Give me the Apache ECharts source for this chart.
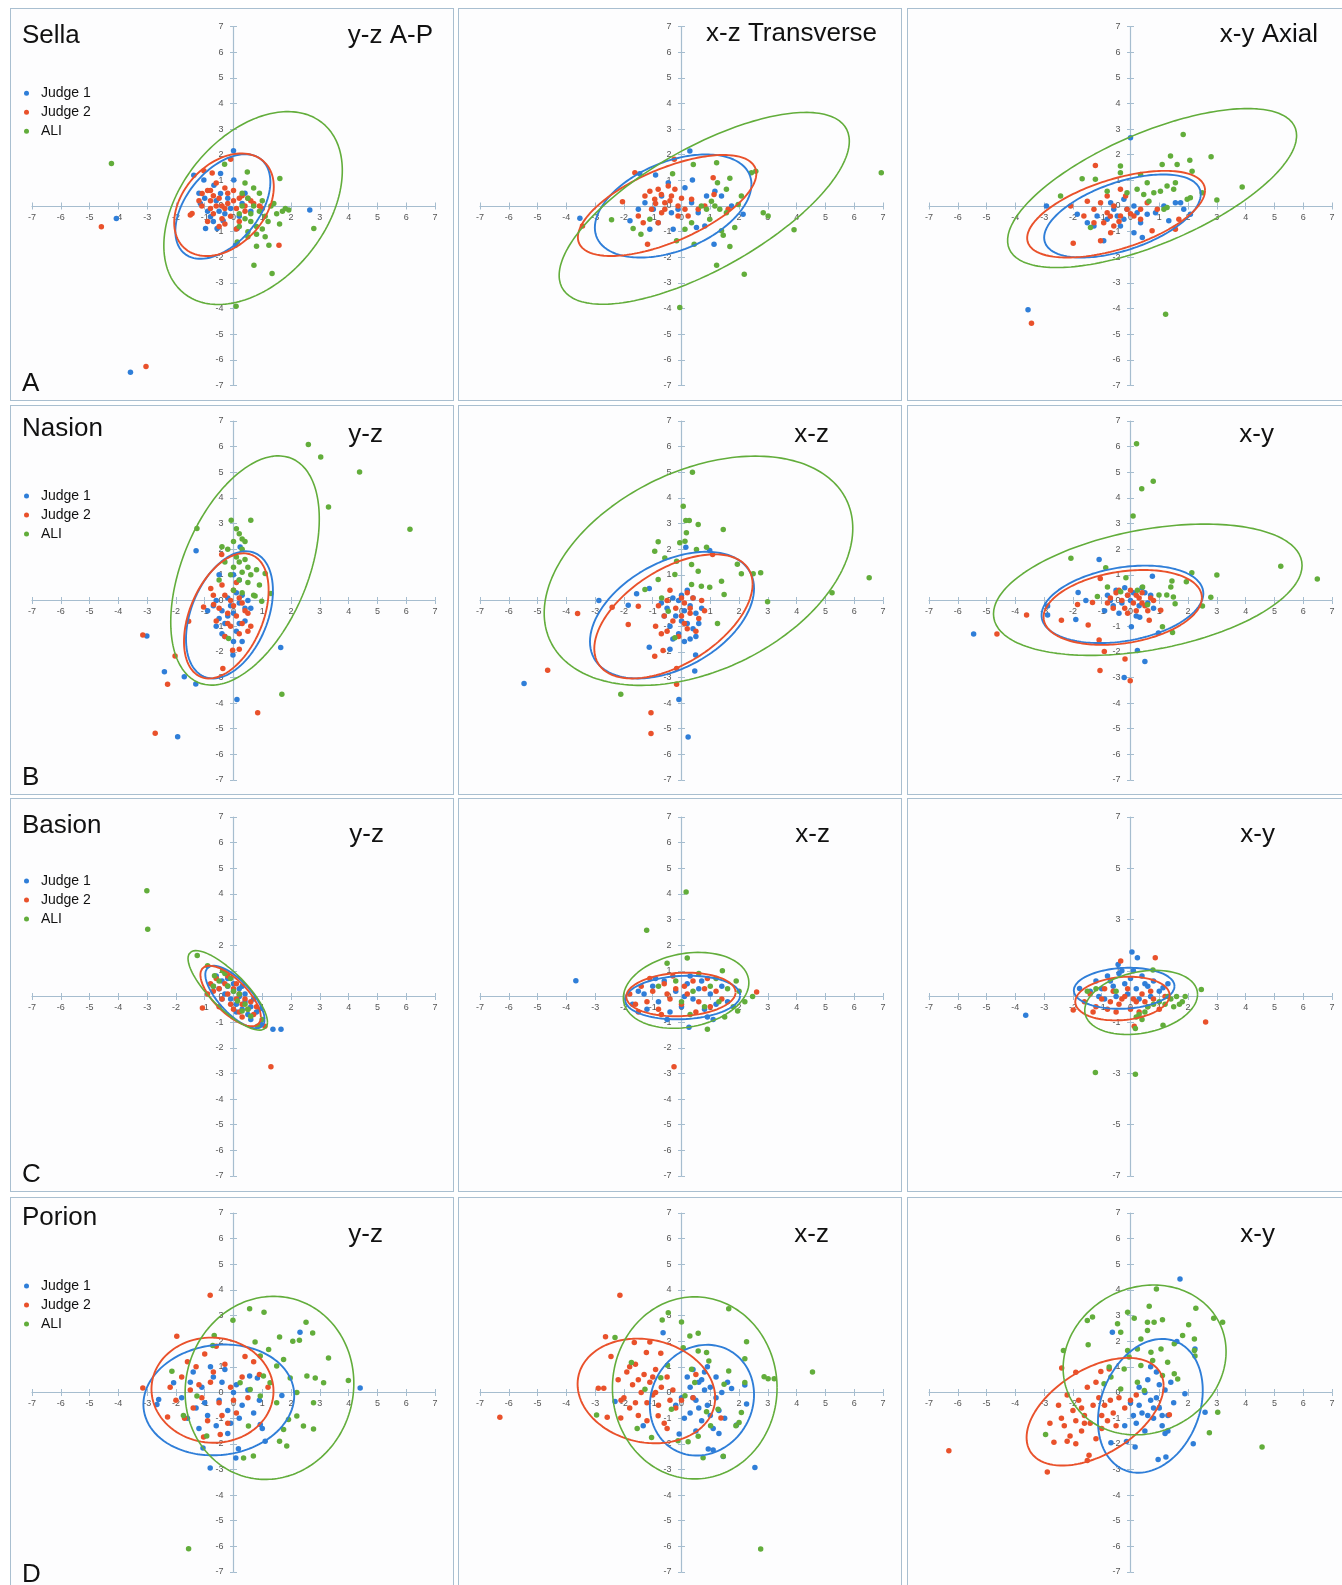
<!DOCTYPE html>
<html><head><meta charset="utf-8">
<script src="https://cdn.jsdelivr.net/npm/echarts@6/dist/echarts.min.js"></script>
<style>
html,body{margin:0;padding:0;background:#fff;}
body{width:1342px;height:1585px;position:relative;overflow:hidden;}
.panel{position:absolute;background:#fdfdfe;}
.panel .chart{position:absolute;left:0;top:0;width:100%;height:100%;}
.panel .frame{position:absolute;left:0;top:0;right:0;bottom:0;border:1px solid #a9bfd0;pointer-events:none;}
</style></head><body>
<script>
// ---------- names / texts ----------
const seriesNames = ['Judge 1', 'Judge 2', 'ALI'];
const landmarks = ['Sella', 'Nasion', 'Basion', 'Porion'];
const rowLetters = ['A', 'B', 'C', 'D'];
const planeTitles = [
  ['y-z A-P', 'x-z Transverse', 'x-y Axial'],
  ['y-z', 'x-z', 'x-y'],
  ['y-z', 'x-z', 'x-y'],
  ['y-z', 'x-z', 'x-y']
];
const axisMin = -7, axisMax = 7;
const oddTicks = [-7, -5, -3, -1, 1, 3, 5, 7];

// ---------- Sella ----------
const sellaYZ_j1 = [[-4.07,-0.49],[-3.58,-6.48],[2.65,-0.16],[0.0,2.15],[-1.38,1.2],[-1.03,1.01],[-0.45,1.27],[0.01,1.01],[-0.68,0.81],[-1.15,0.1],[-0.97,-0.88],[-0.57,-0.88],[-0.36,-0.58],[0.13,-0.88],[0.07,-1.53],[-0.8,-0.42],[-0.45,0.49],[-0.6,0.2],[-0.2,0.3],[0.3,0.1],[-0.9,-0.2],[-0.3,-0.3],[0.2,-0.4],[-1.2,0.5],[-0.7,-0.6],[0.4,0.5],[-0.1,-0.1],[-0.5,-0.2],[0.6,-0.2],[-1.0,0.3]];
const sellaYZ_j2 = [[-4.59,-0.81],[-3.04,-6.26],[1.58,-1.53],[-0.1,1.82],[-0.74,1.29],[-1.03,1.37],[-1.44,-0.29],[-1.09,0.49],[-1.5,-0.35],[-0.9,0.6],[-0.6,0.9],[-0.3,0.7],[0.0,0.6],[0.3,0.4],[0.6,0.2],[-0.8,0.2],[-0.5,0.3],[-0.2,0.1],[0.1,-0.1],[0.4,-0.2],[-0.7,-0.3],[-0.4,-0.5],[-0.1,-0.4],[0.2,-0.6],[-0.9,-0.6],[-0.6,0.0],[-0.3,-0.1],[0.0,0.2],[0.7,0.1],[-1.1,0.0],[-0.2,0.5],[0.5,0.3],[-0.5,-0.8],[0.1,-0.9],[-0.8,0.6],[0.9,0.0],[1.0,-0.1],[-0.4,0.0],[-0.7,0.4],[0.2,0.3],[-0.3,-0.7],[0.4,0.0],[-1.2,0.2],[-0.8,-0.1]];
const sellaYZ_ali = [[-4.24,1.66],[0.09,-3.91],[1.34,-2.63],[0.71,-2.31],[2.79,-0.88],[1.61,1.07],[0.48,1.33],[-0.31,1.63],[1.92,-0.16],[1.23,-1.53],[0.8,-1.57],[0.13,-1.4],[0.3,0.5],[0.5,0.3],[0.7,0.0],[0.9,-0.2],[1.1,-0.4],[1.3,0.0],[1.5,-0.3],[1.7,-0.2],[0.4,-0.5],[0.6,-0.6],[0.8,-0.8],[1.0,-0.9],[0.2,-0.8],[0.5,-1.0],[1.2,-0.6],[0.9,0.5],[0.7,0.7],[1.4,0.1],[0.3,0.0],[1.0,0.2],[0.6,-0.3],[1.8,-0.1],[0.2,-0.3],[1.6,-0.7],[0.4,0.9],[0.8,-1.1],[1.1,-1.2],[0.5,-1.2]];
const sellaYZ_ell = [[-0.37,-0.02,1.65,2.04,0.47],[-0.33,0.05,1.73,2.0,0.35],[0.68,-0.08,3.1,3.76,0.39]];

const sellaXZ_j1 = [[0.29,2.14],[-1.45,1.26],[-0.9,1.21],[0.38,1.01],[-3.53,-0.48],[-1.79,-0.58],[1.13,-1.49],[-0.81,-0.65],[-1.1,-0.91],[-0.29,-0.91],[0.52,-0.84],[0.81,-0.78],[1.39,0.39],[2.14,-0.32],[1.74,0.0],[0.12,0.71],[-0.69,0.39],[-0.46,0.91],[0.35,0.13],[-0.12,-0.13],[-1.27,0.13],[-0.98,-0.13],[0.87,0.39],[0.58,-0.26],[-0.35,-0.26],[1.16,0.58],[-1.5,-0.13]];
const sellaXZ_j2 = [[-1.18,-1.49],[-3.44,-0.78],[-0.25,1.82],[-1.62,1.3],[1.1,1.1],[-2.05,0.17],[1.13,0.45],[1.62,-0.13],[-1.5,-0.39],[-1.27,0.39],[-0.93,0.26],[-0.81,0.65],[-0.58,0.13],[-0.35,0.39],[-0.12,0.0],[0.12,-0.13],[0.35,0.26],[0.58,-0.13],[-1.04,-0.13],[-0.69,-0.26],[-0.46,0.78],[-0.23,0.65],[0.23,-0.39],[-0.81,-0.65],[0.81,0.0],[-1.33,-0.65],[-0.58,-0.13],[-1.1,0.58],[-0.12,-0.39],[-0.9,0.1],[-0.4,0.2],[0.0,0.3],[-0.7,0.45]];
const sellaXZ_ali = [[6.94,1.3],[2.58,1.36],[2.43,1.3],[1.22,1.69],[0.41,1.62],[1.68,1.08],[1.25,0.91],[-0.31,1.26],[2.84,-0.26],[3.01,-0.39],[3.91,-0.93],[2.18,-2.66],[1.22,-2.31],[-0.06,-3.96],[-2.43,-0.54],[-1.68,-0.88],[-1.41,-1.1],[-0.17,-1.36],[0.44,-1.49],[1.68,-1.58],[1.45,-1.14],[1.85,-0.84],[1.39,-0.97],[0.98,-0.52],[1.33,-0.13],[1.04,0.19],[2.08,0.39],[1.56,0.65],[0.69,0.0],[0.35,-0.65],[0.12,-0.91],[0.87,-0.13],[1.97,0.06],[1.16,0.0],[1.56,-0.26],[-1.1,-0.52]];
const sellaXZ_ell = [[-0.29,0.0,2.72,2.01,0.42],[-0.5,0.02,3.1,1.97,0.63],[0.79,-0.09,5.04,3.74,0.7]];

const sellaXY_j1 = [[-3.56,-4.05],[-2.92,0.0],[0.0,2.66],[0.41,-1.23],[0.12,-1.04],[-0.93,-1.36],[-1.85,-0.32],[-1.5,-0.65],[1.33,-0.58],[1.56,0.13],[1.74,0.13],[1.85,-0.13],[2.08,-0.32],[1.16,0.0],[0.87,-0.26],[0.35,-0.65],[-0.35,-0.78],[-0.58,-0.13],[-0.23,0.26],[-0.81,-0.52],[-0.46,-0.39],[-0.12,-0.13],[0.23,-0.26],[0.58,-0.32],[-1.16,-0.39],[-0.23,-0.52],[0.12,0.0],[-0.69,0.13],[-1.27,-0.78]];
const sellaXY_j2 = [[-3.44,-4.57],[-1.22,1.58],[-1.99,-1.45],[-1.04,-1.36],[0.75,-0.97],[1.56,-0.91],[1.68,-0.52],[-2.08,0.0],[-1.5,0.19],[-1.27,-0.13],[-1.04,0.13],[-0.81,-0.26],[-0.58,0.0],[-0.35,-0.39],[-0.12,-0.13],[0.12,-0.39],[0.35,-0.13],[0.58,0.13],[-0.81,0.39],[-0.35,0.65],[-0.93,-0.65],[-0.58,-0.78],[-1.27,-0.65],[-1.62,-0.39],[0.35,-0.52],[0.93,-0.13],[-0.69,-1.04],[-0.17,0.39],[-0.4,-0.6],[-0.7,-0.4],[0.0,-0.3]];
const sellaXY_ali = [[1.83,2.79],[2.8,1.92],[3.88,0.74],[3.0,0.23],[1.22,-4.22],[2.06,1.78],[1.39,1.95],[1.62,1.62],[1.1,1.62],[0.35,1.23],[-0.35,1.56],[-0.35,1.3],[-1.22,1.04],[-1.68,1.06],[-2.43,0.39],[-1.39,-0.84],[2.14,1.36],[2.49,0.52],[1.97,0.26],[1.04,0.58],[0.81,0.52],[1.27,0.78],[1.5,0.65],[0.58,0.91],[1.27,-0.06],[1.16,-0.13],[0.23,0.65],[-0.12,0.52],[-0.81,0.58],[0.64,0.19],[1.56,0.91],[2.08,0.32],[0.46,0.45]];
const sellaXY_ell = [[-0.28,-0.39,2.72,1.62,0.52],[-0.5,-0.32,3.09,1.69,0.55],[0.75,0.7,5.02,3.1,0.66]];

// ---------- Nasion ----------
const nasionYZ_j1 = [[-3.01,-1.38],[-2.4,-2.78],[-1.71,-2.97],[-1.31,-3.26],[-1.94,-5.31],[0.12,-3.86],[1.64,-1.83],[-1.3,1.94],[-0.02,-2.13],[0.23,2.09],[-0.6,-1.0],[-0.3,-1.4],[0.0,-1.6],[0.3,-1.6],[-0.4,-0.4],[-0.1,-0.2],[0.2,-0.1],[0.4,-0.3],[0.5,0.0],[-0.7,-0.2],[-0.9,-0.4],[-0.2,0.1],[0.1,0.3],[-0.5,-0.7],[0.2,-0.9],[0.4,-0.8],[-0.6,0.0],[0.0,-0.5],[-0.3,-0.9],[0.1,-1.2],[-0.4,-1.3],[0.6,-0.3],[0.3,0.2],[-0.2,-0.6],[0.2,0.8],[0.0,1.0],[-0.5,1.0]];
const nasionYZ_j2 = [[-3.15,-1.35],[-2.29,-3.27],[-2.72,-5.18],[0.84,-4.38],[-2.03,-2.16],[-1.56,-0.81],[-0.37,-2.65],[-0.03,-1.94],[-0.41,1.79],[-0.79,0.47],[-0.69,-0.16],[-1.04,-0.25],[-0.5,-0.3],[-0.2,-0.5],[0.1,-0.6],[0.3,-0.9],[0.5,-1.2],[-0.3,0.2],[0.0,0.4],[0.2,0.1],[-0.6,-0.8],[-0.1,-1.0],[0.2,-1.3],[0.4,-0.4],[-0.4,0.6],[0.0,-0.2],[-0.2,-0.9],[0.1,0.7],[0.3,-0.1],[-0.7,0.2],[0.6,-1.0],[-0.1,0.0],[0.2,-1.9],[-0.3,-1.4],[0.5,-0.5]];
const nasionYZ_ali = [[2.6,6.08],[3.03,5.6],[4.38,5.01],[3.3,3.65],[6.13,2.78],[-1.27,2.81],[-0.08,3.13],[0.6,3.13],[1.68,-3.66],[-0.17,-1.48],[1.3,0.27],[1.1,1.05],[0.98,-0.03],[0.75,0.18],[0.1,2.8],[0.2,2.6],[0.3,2.4],[0.0,2.3],[0.4,2.3],[-0.2,2.0],[0.3,2.0],[0.1,1.7],[0.2,1.5],[0.0,1.3],[0.3,1.1],[-0.1,1.0],[0.2,0.8],[0.5,1.3],[0.6,1.0],[0.8,1.2],[0.5,0.7],[0.0,0.4],[0.3,0.3],[-0.5,0.8],[-0.4,2.1],[0.7,0.2],[0.9,0.6],[-0.3,1.5],[0.4,1.6]];
const nasionYZ_ell = [[-0.14,-0.56,1.51,2.48,0.38],[-0.25,-0.6,1.47,2.44,0.41],[0.4,1.17,2.58,4.47,0.45]];

const nasionXZ_j1 = [[-5.47,-3.24],[-0.09,-3.86],[0.23,-5.32],[-2.87,0.0],[0.46,-2.75],[0.49,-2.13],[-1.12,-1.82],[-1.85,-0.19],[-1.12,0.47],[0.98,1.95],[0.15,2.08],[-1.56,0.26],[-0.5,-0.3],[-0.2,-0.6],[0.1,-0.4],[0.3,-0.2],[0.5,-0.5],[0.7,-0.3],[-0.3,0.1],[0.0,0.2],[0.2,-0.9],[0.4,-1.1],[-0.4,-1.0],[-0.1,-1.3],[0.3,-1.5],[0.1,-1.6],[0.6,-0.9],[-0.6,-0.6],[0.2,0.4],[-0.1,0.0],[0.4,0.1],[0.0,-0.8],[-0.7,-0.1],[0.5,-1.4],[-0.3,-1.5],[-0.4,-1.9]];
const nasionXZ_j2 = [[-4.65,-2.72],[-3.61,-0.51],[-2.41,-0.26],[-1.5,-0.22],[-1.85,-0.94],[-1.06,-4.38],[-1.06,-5.19],[-0.17,-3.27],[-0.93,-2.17],[-0.64,-1.95],[-0.17,-2.65],[1.08,1.79],[-0.8,-0.2],[-0.5,0.0],[-0.2,-0.3],[0.1,-0.1],[0.4,0.1],[0.7,0.0],[-0.6,-0.6],[-0.3,-0.8],[0.0,-0.6],[0.3,-0.5],[0.6,-0.7],[-0.9,-1.0],[-0.5,-1.2],[0.2,-1.1],[0.5,-1.2],[-0.1,-1.4],[0.2,0.3],[-0.4,0.4],[0.0,0.1],[0.3,-0.3],[0.8,-0.4],[-0.7,-1.3],[0.1,-0.9]];
const nasionXZ_ali = [[0.38,5.0],[0.06,3.68],[0.15,3.12],[0.27,3.12],[0.58,2.96],[0.17,2.64],[0.12,2.31],[1.45,2.77],[-0.81,2.29],[-0.93,1.92],[0.52,1.99],[0.87,2.08],[1.94,1.41],[2.08,1.04],[2.49,1.04],[2.75,1.08],[6.52,0.89],[5.23,0.3],[2.99,-0.05],[1.25,-0.9],[1.48,0.23],[1.39,0.75],[-2.11,-3.66],[-1.27,0.43],[-0.81,0.82],[-0.17,1.53],[0.35,1.4],[0.58,1.14],[0.69,0.56],[0.98,0.52],[-0.23,1.01],[-0.69,0.1],[-0.46,-0.42],[0.35,0.62],[-0.23,-1.45],[-0.58,1.66],[-0.06,2.25]];
const nasionXZ_ell = [[-0.33,-0.57,2.85,2.47,0.42],[-0.28,-0.62,2.75,2.42,0.52],[0.59,1.16,5.36,4.47,0.37]];

const nasionXY_j1 = [[-5.45,-1.31],[-2.88,-0.57],[-2.88,-0.21],[-1.82,0.31],[-1.9,-0.74],[-1.55,0.0],[-1.09,1.6],[0.76,0.95],[0.97,-1.27],[0.24,-1.95],[0.5,-2.38],[-0.22,-3.0],[0.03,-1.02],[0.32,-0.65],[-0.8,0.2],[-0.5,0.4],[-0.2,0.5],[0.1,0.3],[0.4,0.5],[0.7,0.2],[-0.6,-0.2],[-0.3,-0.1],[0.0,0.0],[0.3,-0.2],[0.6,-0.1],[-0.4,-0.5],[0.2,-0.6],[-0.9,-0.4],[0.5,0.3],[-0.1,0.2],[0.8,-0.3],[-0.7,0.0]];
const nasionXY_j2 = [[-4.64,-1.31],[-3.61,-0.57],[-2.4,-0.77],[-1.84,-0.16],[-1.47,-0.96],[-1.09,-1.54],[-0.91,-1.99],[-1.06,-2.73],[-0.19,-2.28],[-0.01,-3.13],[0.65,-0.77],[1.05,-0.38],[-1.05,0.86],[-1.32,-0.08],[-0.7,0.1],[-0.5,0.3],[-0.3,0.0],[-0.1,0.2],[0.1,-0.1],[0.3,0.1],[0.5,-0.2],[0.7,0.1],[-0.6,-0.3],[-0.2,-0.3],[0.2,-0.4],[0.4,0.3],[-0.4,0.4],[0.0,0.4],[0.6,-0.4],[-0.8,-0.1],[0.2,0.2],[-0.1,-0.5],[0.8,0.0],[0.4,-0.1]];
const nasionXY_ali = [[0.21,6.11],[0.79,4.65],[0.39,4.36],[0.09,3.3],[-2.07,1.65],[-0.86,1.28],[-0.16,0.89],[5.22,1.34],[6.49,0.84],[2.13,1.08],[3.0,0.99],[1.44,0.76],[1.94,0.73],[1.4,0.53],[1.26,0.21],[1.49,0.14],[2.79,0.13],[2.5,-0.21],[1.55,-0.13],[0.99,0.21],[1.11,-1.02],[1.46,-1.25],[0.42,0.53],[0.24,0.4],[-0.8,0.53],[-1.15,0.16],[-0.34,0.34],[0.59,-0.17]];
const nasionXY_ell = [[-0.28,-0.15,2.81,1.51,0.28],[-0.27,-0.27,2.75,1.46,0.26],[0.6,0.42,5.36,2.56,0.37]];

// ---------- Basion ----------
const basionYZ_j1 = [[1.37,-1.28],[1.65,-1.28],[0.95,-1.08],[-0.6,0.8],[-0.4,0.6],[-0.2,0.4],[0.0,0.2],[0.2,0.0],[0.4,-0.2],[0.6,-0.4],[0.8,-0.6],[-0.5,0.3],[-0.3,0.1],[-0.1,-0.1],[0.1,-0.3],[0.3,-0.5],[0.5,-0.7],[-0.2,0.7],[0.0,0.5],[0.2,0.3],[0.4,0.1],[0.7,-0.1],[-0.7,0.4],[0.1,-0.6],[0.3,0.4],[-0.4,-0.1],[0.6,-0.9],[0.9,-0.5]];
const basionYZ_j2 = [[1.3,-2.74],[1.09,-1.16],[-1.08,-0.45],[-0.8,0.5],[-0.6,0.7],[-0.5,0.3],[-0.3,0.5],[-0.2,0.1],[0.0,0.3],[0.1,-0.1],[0.3,-0.3],[0.5,-0.5],[0.7,-0.7],[-0.4,-0.1],[-0.1,-0.3],[0.2,0.1],[0.4,-0.1],[-0.7,0.2],[-0.2,0.8],[0.0,-0.5],[0.3,-0.8],[0.6,-0.2],[-0.9,0.1],[0.1,0.5],[-0.5,-0.4],[0.8,-0.4],[0.2,-0.6]];
const basionYZ_ali = [[-3.01,4.12],[-2.98,2.62],[-1.26,1.6],[0.84,-1.16],[0.3,-0.57],[-0.38,1.0],[-0.2,0.41],[-0.66,0.81],[0.14,-0.18],[0.6,-0.77],[-0.9,1.2],[-0.5,0.6],[0.0,0.2],[0.4,-0.3],[-0.1,0.7],[0.2,0.1],[-0.7,0.4],[0.5,-0.5],[-0.3,0.9],[1.0,-0.9]];
const basionYZ_ell = [[0.05,-0.02,1.03,1.22,-0.72],[-0.1,0.02,1.05,1.18,-0.7],[-0.2,0.24,1.38,1.55,-0.8]];

const basionXZ_j1 = [[-3.67,0.61],[0.26,-1.2],[-1.7,-0.3],[-1.5,0.2],[-1.2,-0.5],[-1.0,0.4],[-0.8,-0.2],[-0.6,0.6],[-0.4,-0.6],[-0.2,0.2],[0.0,-0.4],[0.2,0.5],[0.4,-0.1],[0.6,0.3],[0.8,-0.5],[1.0,0.1],[1.2,-0.3],[1.4,0.4],[1.6,-0.2],[-0.9,0.7],[0.3,0.8],[0.9,-0.8],[-0.5,-0.9],[0.1,0.0],[-1.3,0.1],[0.7,0.6],[1.1,-0.9]];
const basionXZ_j2 = [[2.61,0.18],[-0.26,-2.74],[-1.8,0.1],[-1.6,-0.3],[-1.4,0.4],[-1.2,-0.2],[-1.0,0.2],[-0.8,-0.5],[-0.6,0.5],[-0.4,-0.1],[-0.2,0.3],[0.0,-0.3],[0.2,0.1],[0.4,0.6],[0.6,-0.2],[0.8,0.3],[1.0,-0.4],[1.2,0.2],[1.4,-0.1],[-1.1,0.7],[-0.3,0.8],[0.5,-0.6],[-0.7,-0.7],[0.1,0.4],[-0.5,0.1],[0.9,0.7],[-1.5,-0.6]];
const basionXZ_ali = [[0.16,4.08],[-1.21,2.58],[0.9,-1.28],[1.95,-0.57],[2.47,0.0],[1.42,1.0],[0.2,1.5],[-0.5,1.3],[0.6,0.9],[1.0,0.4],[1.3,-0.2],[1.6,0.3],[1.8,-0.4],[2.0,0.2],[0.8,-0.4],[0.4,0.2],[-0.2,0.6],[1.2,0.7],[2.2,-0.2],[0.3,-0.7],[1.5,-0.8],[-0.8,0.4],[0.0,-0.2],[1.9,0.6]];
const basionXZ_ell = [[0.04,-0.04,2.0,0.85,0.1],[-0.02,0.08,1.9,0.85,0.1],[0.16,0.24,2.18,1.48,0.2]];

const basionXY_j1 = [[-3.64,-0.73],[0.05,1.74],[0.24,1.51],[-0.43,1.25],[1.13,0.34],[-1.77,0.31],[-1.4,0.2],[-1.2,0.6],[-1.0,0.3],[-0.8,0.8],[-0.6,0.4],[-0.4,0.9],[-0.2,0.5],[0.0,0.7],[0.2,0.3],[0.4,0.8],[0.6,0.4],[0.8,0.6],[1.0,0.2],[1.3,0.5],[-0.9,-0.1],[-0.5,0.0],[-0.1,0.1],[0.3,-0.1],[0.7,0.0],[-0.3,1.0],[0.1,1.0],[-0.7,0.6],[0.5,0.5],[-1.1,0.0]];
const basionXY_j2 = [[2.61,-0.99],[0.86,1.51],[-0.34,1.38],[0.13,-1.16],[-1.99,-0.53],[-1.6,-0.2],[-1.4,0.1],[-1.2,-0.4],[-1.0,-0.1],[-0.8,-0.5],[-0.6,0.2],[-0.4,-0.3],[-0.2,0.0],[0.0,-0.5],[0.2,-0.2],[0.4,0.1],[0.6,-0.4],[0.8,-0.1],[1.0,-0.5],[1.2,0.0],[-1.3,-0.6],[-0.9,0.3],[-0.5,-0.6],[-0.1,0.3],[0.3,-0.6],[0.7,0.2],[-0.7,-0.2],[0.1,-0.1],[0.5,-0.2],[-0.3,-0.1]];
const basionXY_ali = [[-1.22,-2.96],[0.17,-3.03],[2.46,0.27],[0.78,1.03],[1.13,-1.12],[0.17,-1.25],[1.0,-0.2],[1.2,-0.3],[1.4,-0.1],[1.6,0.0],[1.8,-0.2],[1.9,0.0],[1.7,-0.3],[0.5,-0.6],[0.3,-0.7],[0.6,-0.4],[0.4,-0.9],[1.3,0.0],[0.8,-0.3],[-0.5,0.2],[-1.2,0.3],[-1.5,0.2],[0.2,-0.8],[1.5,-0.4]];
const basionXY_ell = [[-0.22,0.32,1.75,0.8,0.1],[-0.28,-0.08,1.64,0.85,0.15],[0.37,-0.23,1.96,1.25,0.25]];

// ---------- Porion ----------
const porionYZ_j1 = [[4.4,0.18],[2.31,2.35],[-0.81,-2.94],[0.08,-2.55],[0.17,-2.19],[-1.06,-2.16],[1.68,-0.12],[1.1,-1.9],[0.93,-1.25],[-2.6,-0.27],[-2.66,-0.47],[-2.08,0.38],[0.56,0.64],[0.83,0.57],[-1.8,-0.2],[-1.5,0.4],[-1.3,-0.6],[-1.1,0.2],[-0.9,-0.9],[-0.7,0.6],[-0.5,-0.3],[-0.3,0.9],[-0.1,-1.2],[0.1,0.3],[0.3,-0.5],[0.5,0.1],[0.7,-0.8],[-1.6,-1.0],[-1.2,-1.4],[-0.6,-1.3],[-0.2,-1.6],[0.2,-1.0],[-0.8,1.0],[-0.4,0.4],[0.0,0.0],[-1.0,-0.4],[0.9,-0.3],[-1.4,0.8],[-0.2,-0.7],[1.0,-1.4]];
const porionYZ_j2 = [[-0.81,3.79],[-1.97,2.19],[-3.15,0.18],[-2.29,-0.96],[-0.46,-1.64],[-1.04,-1.74],[-2.0,-0.3],[-1.8,0.6],[-1.6,1.2],[-1.4,-0.6],[-1.2,0.3],[-1.0,1.5],[-0.9,-1.1],[-0.7,0.8],[-0.5,-0.4],[-0.3,1.1],[-0.1,0.2],[0.1,-0.8],[0.3,0.6],[0.5,-0.2],[0.7,1.2],[-1.7,-1.0],[-1.1,-0.2],[-0.6,1.8],[-0.2,-1.2],[0.4,1.4],[-1.5,0.1],[-0.8,0.4],[0.0,-0.3],[0.9,0.7],[-2.2,0.2],[-1.3,1.0],[-0.4,-0.9],[1.2,0.2]];
const porionYZ_ali = [[-1.56,-6.09],[0.56,3.27],[1.06,3.13],[-0.02,2.82],[2.52,2.74],[2.75,2.32],[3.3,1.35],[3.99,0.47],[1.6,2.16],[2.06,2.0],[2.29,2.04],[-0.67,2.22],[-0.72,1.83],[-2.14,0.83],[0.75,1.97],[2.43,-1.31],[2.78,-1.42],[0.35,-2.55],[0.69,-2.48],[1.6,-1.9],[-1.74,-0.9],[2.84,0.57],[3.13,0.38],[2.78,-0.4],[2.2,-0.92],[1.74,-1.44],[1.97,0.57],[1.5,1.03],[1.04,0.64],[0.58,0.12],[0.23,0.38],[0.93,1.42],[1.22,1.68],[1.74,1.29],[2.2,0.0],[1.5,-0.4],[0.93,-0.14],[0.52,-1.31],[1.91,-1.05],[1.27,0.38],[2.55,0.64],[1.85,-2.09],[-0.93,-1.7],[-1.27,-0.14]];
const porionYZ_ell = [[-0.51,-0.29,2.62,2.16,0.08],[-0.73,0.09,2.12,2.05,-0.02],[1.25,0.18,2.93,3.57,0.05]];

const porionXZ_j1 = [[-0.64,2.33],[2.55,-2.92],[1.45,-2.5],[0.93,-2.2],[1.1,-2.24],[-1.33,-1.3],[-2.31,-0.35],[-0.08,-1.62],[1.74,0.16],[2.2,0.29],[2.26,-0.45],[1.91,-1.27],[0.0,-0.2],[0.2,0.6],[0.3,-0.8],[0.4,0.9],[0.5,-0.3],[0.6,0.4],[0.7,-1.1],[0.8,0.8],[0.9,-0.5],[1.0,0.2],[1.1,-1.4],[1.2,0.6],[1.3,-0.7],[1.4,0.0],[1.5,-1.0],[1.6,0.4],[0.3,0.2],[0.6,-0.6],[0.9,1.0],[1.2,-0.2],[0.5,-1.5],[0.1,-1.0],[0.8,0.1],[1.0,-0.9],[-0.2,-0.5],[0.4,-0.2],[0.7,0.5],[1.3,-1.6]];
const porionXZ_j2 = [[-6.31,-0.97],[-2.14,3.79],[-2.64,2.17],[-2.45,1.4],[-1.64,1.95],[-1.1,1.97],[-2.58,-0.97],[-2.89,0.17],[-2.7,0.17],[-2.11,-0.99],[-1.22,1.56],[-0.72,1.53],[1.37,-0.99],[-0.81,-0.91],[-2.2,0.5],[-2.0,-0.2],[-1.9,0.8],[-1.8,-0.6],[-1.7,0.3],[-1.6,1.1],[-1.5,-0.9],[-1.4,0.0],[-1.3,0.7],[-1.2,-0.4],[-1.1,0.4],[-1.0,-0.1],[-0.9,0.9],[-0.8,-0.5],[-0.7,0.2],[-0.6,-1.2],[-0.5,0.6],[-0.4,-0.3],[-0.3,0.1],[-2.1,-0.3],[-1.8,1.0],[-1.5,0.5],[-1.2,-1.1],[-0.9,0.0],[-0.2,-0.6],[0.0,-0.3],[-1.6,-0.4],[-1.0,0.6],[0.4,-0.2],[0.5,0.7],[-0.5,-1.4]];
const porionXZ_ali = [[4.55,0.8],[2.75,-6.1],[1.64,3.27],[0.0,2.75],[-0.67,2.83],[-0.46,3.11],[0.58,2.31],[0.29,2.2],[2.26,1.98],[2.2,1.32],[2.87,0.61],[3.01,0.54],[3.22,0.54],[1.45,-2.49],[0.75,-2.54],[-2.31,2.14],[-2.95,-0.88],[-1.04,-1.75],[-1.54,-1.4],[-0.12,-1.88],[0.23,-1.92],[0.58,-1.71],[2.08,-0.78],[1.89,-1.3],[1.01,-1.3],[0.87,-0.75],[-0.49,1.06],[-0.72,0.58],[0.06,1.75],[0.58,1.62],[0.87,1.56],[0.95,1.23],[1.64,0.84],[1.48,0.32],[0.46,0.39],[0.12,-0.13],[-0.35,-0.65],[-1.27,0.13],[-1.74,1.17],[1.27,-0.65],[0.35,0.91],[2.2,0.39],[2.0,-1.17]];
const porionXZ_ell = [[0.71,-0.3,1.81,2.16,0.1],[-1.22,0.06,2.39,2.04,-0.13],[0.46,0.18,2.86,3.55,0.0]];

const porionXY_j1 = [[1.72,4.43],[-0.63,2.35],[0.96,-2.61],[1.23,-2.52],[2.18,-2.0],[2.59,-0.77],[1.89,-0.05],[1.61,1.99],[2.24,1.7],[0.16,-2.13],[-0.14,-1.91],[-0.68,-1.96],[0.0,-0.4],[0.2,-1.2],[0.3,0.2],[0.4,-0.8],[0.5,-1.5],[0.6,0.5],[0.7,-0.3],[0.8,-1.0],[0.9,0.8],[1.0,-0.6],[1.1,-1.3],[1.2,0.1],[1.3,-0.9],[1.4,0.4],[1.5,-0.4],[0.3,-0.5],[0.6,-0.9],[0.9,-0.2],[1.2,-1.6],[0.1,-0.9],[0.7,1.0],[1.0,0.3],[-0.2,-1.3],[0.5,0.0],[0.8,-0.6],[1.1,-0.9],[1.3,-1.5]];
const porionXY_j2 = [[-6.31,-2.27],[-2.89,-3.1],[-2.66,-1.94],[-1.5,-2.65],[-1.44,-2.45],[-2.39,0.96],[-1.9,0.79],[-1.03,0.82],[-0.74,0.92],[1.35,-0.87],[-2.5,-0.5],[-2.3,-1.3],[-2.2,-0.1],[-2.1,-1.7],[-2.0,-0.7],[-1.9,-1.1],[-1.8,-0.3],[-1.7,-1.5],[-1.6,-0.9],[-1.5,0.2],[-1.4,-1.2],[-1.3,-0.5],[-1.2,-1.8],[-1.1,-0.2],[-1.0,-0.9],[-0.9,-0.5],[-0.8,-1.1],[-0.7,-0.3],[-0.6,-0.8],[-0.4,-0.2],[-0.2,-0.6],[0.0,-0.3],[0.2,-0.1],[-1.6,-1.2],[-2.4,-1.0],[-1.9,-2.0],[-1.2,0.4],[-0.5,-1.3],[-2.8,-1.2],[-1.0,-1.4],[-1.7,-0.6],[-2.2,-1.9]];
const porionXY_ali = [[4.57,-2.13],[3.03,-0.77],[2.74,-1.57],[-2.95,-1.64],[3.2,2.74],[2.89,2.9],[2.27,3.29],[0.9,4.04],[0.65,3.36],[-0.1,3.13],[-1.5,2.81],[-1.32,2.94],[-1.47,1.86],[-2.33,1.64],[-0.45,2.68],[-0.34,2.35],[0.13,2.9],[0.59,2.74],[0.82,2.74],[1.11,2.84],[2.02,2.64],[2.22,2.09],[2.22,1.64],[2.24,1.42],[1.52,1.9],[1.81,2.22],[1.06,1.7],[0.36,2.09],[0.24,1.7],[-0.1,1.64],[0.59,2.42],[0.77,1.25],[0.36,1.05],[-0.22,0.92],[-0.74,0.99],[-0.68,0.6],[-0.92,0.34],[-0.34,0.14],[0.24,0.4],[0.48,0.08],[1.52,0.73],[1.64,0.53],[1.11,0.66],[1.29,1.18],[-0.05,1.38],[0.71,1.57]];
const porionXY_ell = [[0.69,-0.52,1.82,2.61,0.23],[-1.23,-0.75,2.38,2.1,0.48],[0.49,1.27,2.83,2.92,0.11]];

// ---------- panel wiring (rows x cols) ----------
const panelData = [
  [[sellaYZ_j1, sellaYZ_j2, sellaYZ_ali, sellaYZ_ell], [sellaXZ_j1, sellaXZ_j2, sellaXZ_ali, sellaXZ_ell], [sellaXY_j1, sellaXY_j2, sellaXY_ali, sellaXY_ell]],
  [[nasionYZ_j1, nasionYZ_j2, nasionYZ_ali, nasionYZ_ell], [nasionXZ_j1, nasionXZ_j2, nasionXZ_ali, nasionXZ_ell], [nasionXY_j1, nasionXY_j2, nasionXY_ali, nasionXY_ell]],
  [[basionYZ_j1, basionYZ_j2, basionYZ_ali, basionYZ_ell], [basionXZ_j1, basionXZ_j2, basionXZ_ali, basionXZ_ell], [basionXY_j1, basionXY_j2, basionXY_ali, basionXY_ell]],
  [[porionYZ_j1, porionYZ_j2, porionYZ_ali, porionYZ_ell], [porionXZ_j1, porionXZ_j2, porionXZ_ali, porionXZ_ell], [porionXY_j1, porionXY_j2, porionXY_ali, porionXY_ell]]
];

// ---------- layout / style ----------
const colors = ['#2f7ed8', '#e9512b', '#62ad3b'];
const axisColor = '#a6bdcf';
const colLeft = [10, 458, 907];
const rowTop = [8, 405, 798, 1197];
const rowH = [393, 390, 394, 393];
const panelW = 444;
const gridW = 403, gridH = 359;
const gridTopRow = [18.5, 16, 19, 16];
const nameBase = [36.3, 33, 36.7, 29.7];
const planeBase = [[36.3, 35, 35.7], [39, 39, 39], [45.3, 45.3, 45.3], [47, 47, 47]];
const planeRight = [[21, 25, 33], [71, 73, 77], [70, 72, 76], [71, 73, 76]];
const letterBase = [385, 381.7, 386, 387];
const legendTop = [75.8, 81.5, 73.5, 79.5];
const FS = 26, BASE_OFF = 21.8;
const FONT = '"Liberation Sans", Arial, Helvetica, sans-serif';

function ellipsePath(p) {
  const cx = p[0], cy = p[1], a = p[2], b = p[3], phi = Math.acos(p[4]);
  const out = [];
  for (let i = 0; i <= 200; i++) {
    const t = i / 200 * 2 * Math.PI;
    out.push([cx + a * Math.cos(t), cy + b * Math.cos(t - phi)]);
  }
  return out;
}

// main axis: labels + ticks on one side, placed through the origin with an inward offset
function mainAxis(isY, odd) {
  const o = {
    type: 'value', min: axisMin, max: axisMax, interval: 1,
    position: isY ? 'left' : 'bottom',
    offset: isY ? -gridW / 2 : -gridH / 2,
    axisLine: { onZero: false, lineStyle: { color: axisColor, width: 1.2 } },
    axisTick: { show: true, length: 3.5, lineStyle: { color: axisColor, width: 1 } },
    axisLabel: { fontSize: 9, color: '#555', margin: isY ? 10 : 7, fontFamily: FONT },
    splitLine: { show: false }
  };
  if (odd) {
    o.axisLabel.customValues = oddTicks;
    o.axisTick.customValues = oddTicks;
  }
  return o;
}
// companion axis: only ticks on the other side, so the tick marks cross the line
function tickAxis(isY, odd) {
  const o = {
    type: 'value', min: axisMin, max: axisMax, interval: 1,
    position: isY ? 'right' : 'top',
    offset: isY ? -gridW / 2 : -gridH / 2,
    axisLine: { show: false, onZero: false },
    axisTick: { show: true, length: 3.5, lineStyle: { color: axisColor, width: 1 } },
    axisLabel: { show: false },
    splitLine: { show: false }
  };
  if (odd) o.axisTick.customValues = oddTicks;
  return o;
}

for (let r = 0; r < 4; r++) {
  for (let c = 0; c < 3; c++) {
    const div = document.createElement('div');
    div.className = 'panel';
    div.style.left = colLeft[c] + 'px';
    div.style.top = rowTop[r] + 'px';
    div.style.width = panelW + 'px';
    div.style.height = rowH[r] + 'px';
    const ch = document.createElement('div');
    ch.className = 'chart';
    const fr = document.createElement('div');
    fr.className = 'frame';
    div.appendChild(ch); div.appendChild(fr);
    document.body.appendChild(div);

    const d = panelData[r][c];
    const titles = [{
      text: planeTitles[r][c], right: planeRight[r][c], top: planeBase[r][c] - BASE_OFF, padding: 0,
      textStyle: { fontSize: FS, fontWeight: 'normal', color: '#111', fontFamily: FONT }
    }];
    if (c === 0) {
      titles.push({ text: landmarks[r], left: 12, top: nameBase[r] - BASE_OFF, padding: 0,
        textStyle: { fontSize: FS, fontWeight: 'normal', color: '#111', fontFamily: FONT } });
      titles.push({ text: rowLetters[r], left: 12, top: letterBase[r] - BASE_OFF, padding: 0,
        textStyle: { fontSize: FS, fontWeight: 'normal', color: '#111', fontFamily: FONT } });
    }
    const odd = (r === 2 && c === 2);
    const series = [];
    for (let s = 0; s < 3; s++) {
      series.push({ name: seriesNames[s], type: 'scatter', data: d[s], symbolSize: 5.5,
        xAxisIndex: 0, yAxisIndex: 0,
        itemStyle: { color: colors[s], opacity: 1 }, z: 2, silent: true });
    }
    for (let s = 0; s < 3; s++) {
      series.push({ name: seriesNames[s] + ' ellipse', type: 'line', data: ellipsePath(d[3][s]),
        xAxisIndex: 0, yAxisIndex: 0,
        showSymbol: false, symbol: 'none', smooth: false, silent: true, z: 3,
        lineStyle: { color: colors[s], width: s === 2 ? 1.6 : 1.9 } });
    }
    const option = {
      animation: false,
      textStyle: { fontFamily: FONT },
      title: titles,
      grid: { left: 22, top: gridTopRow[r], width: gridW, height: gridH },
      xAxis: [mainAxis(false, false), tickAxis(false, false)],
      yAxis: [mainAxis(true, odd), tickAxis(true, odd)],
      series: series
    };
    if (c === 0) {
      option.legend = {
        data: seriesNames, orient: 'vertical', left: 14, top: legendTop[r],
        itemWidth: 5, itemHeight: 5, itemGap: 0, icon: 'circle', selectedMode: false,
        padding: 0,
        textStyle: { fontSize: 14, lineHeight: 19, color: '#111', fontFamily: FONT, padding: [0, 0, 0, 7] }
      };
    }
    const chart = echarts.init(ch, null, { renderer: 'canvas' });
    chart.setOption(option);
  }
}
</script>
</body></html>
